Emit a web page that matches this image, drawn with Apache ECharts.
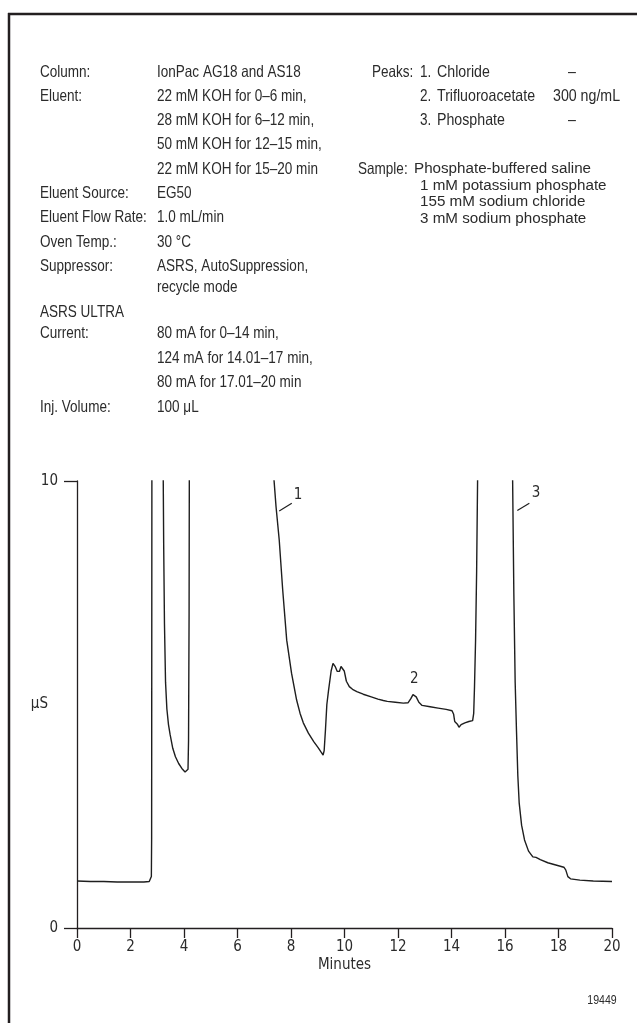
<!DOCTYPE html>
<html>
<head>
<meta charset="utf-8">
<script src="https://cdn.jsdelivr.net/npm/echarts@6/dist/echarts.min.js"></script>
<style>
html,body{margin:0;padding:0;background:#fff;}
#c{width:637px;height:1023px;}
</style>
</head>
<body>
<div id="c"></div>
<script>
// ---- data ----
const minutes = [0,0.5,1.0,1.5,2.0,2.5,2.70,2.75,2.78,2.79,2.80,2.95,3.10,3.22,3.24,3.27,3.31,3.36,3.42,3.48,3.58,3.68,3.80,3.92,4.04,4.11,4.15,4.17,4.19,4.20,4.5,7.0,7.33,7.44,7.56,7.69,7.84,8.02,8.21,8.34,8.46,8.65,8.85,9.02,9.12,9.20,9.24,9.29,9.34,9.40,9.50,9.57,9.61,9.66,9.73,9.81,9.87,9.93,9.99,10.07,10.18,10.30,10.46,10.70,11.0,11.25,11.45,11.6,11.9,12.2,12.38,12.48,12.56,12.61,12.68,12.78,12.90,13.2,13.5,13.8,14.02,14.08,14.12,14.18,14.22,14.28,14.36,14.50,14.65,14.79,14.83,14.86,14.90,14.94,14.98,15.2,16.0,16.28,16.33,16.38,16.43,16.48,16.53,16.62,16.73,16.88,17.04,17.10,17.16,17.22,17.32,17.6,17.9,18.2,18.27,18.35,18.45,18.8,19.3,20];
const microS = [1.05,1.04,1.04,1.03,1.03,1.03,1.04,1.06,1.15,2.0,10.5,30,30,10.4,8.6,6.8,5.5,4.9,4.55,4.33,4.02,3.83,3.68,3.57,3.49,3.45,3.55,4.2,7.0,10.5,30,30,10.3,9.43,8.68,7.56,6.44,5.70,5.10,4.80,4.59,4.36,4.17,4.03,3.94,3.87,3.97,4.45,5.0,5.30,5.75,5.92,5.96,5.84,5.74,5.74,5.85,5.88,5.75,5.52,5.40,5.34,5.29,5.23,5.17,5.12,5.09,5.07,5.05,5.03,5.04,5.13,5.22,5.24,5.17,5.05,4.98,4.95,4.92,4.89,4.86,4.78,4.62,4.58,4.56,4.49,4.55,4.59,4.62,4.64,4.80,5.40,6.44,8.0,10.3,30,30,10.3,7.5,5.5,4.4,3.4,2.8,2.3,1.97,1.72,1.59,1.63,1.58,1.62,1.53,1.46,1.41,1.36,1.30,1.15,1.10,1.07,1.05,1.04];
const xTicks = {min:0, max:20, step:2};
const yTicks = {min:0, max:10, step:10};
const peakNames = ['1','2','3'];
const peakLabelAt = [[8.26,9.69],[12.61,5.56],[17.16,9.73]];
const leaderLines = [[[7.56,9.33],[8.03,9.50]],[[16.46,9.34],[16.91,9.50]]];

const leftLabels = ['Column:','Eluent:','','','','Eluent Source:','Eluent Flow Rate:','Oven Temp.:','Suppressor:','','ASRS ULTRA','Current:','','','Inj. Volume:'];
const leftValues = ['IonPac AG18 and AS18','22 mM KOH for 0–6 min,','28 mM KOH for 6–12 min,','50 mM KOH for 12–15 min,','22 mM KOH for 15–20 min','EG50','1.0 mL/min','30 °C','ASRS, AutoSuppression,','recycle mode','','80 mA for 0–14 min,','124 mA for 14.01–17 min,','80 mA for 17.01–20 min','100 μL'];
const peakNums = ['1.','2.','3.'];
const peakList = ['Chloride','Trifluoroacetate','Phosphate'];
const peakConc = ['–','300 ng/mL','–'];
const sampleLines = ['Phosphate-buffered saline','1 mM potassium phosphate','155 mM sodium chloride','3 mM sodium phosphate'];
const figureId = '19449';

// ---- layout ----
const CFONT = "'DejaVu Sans Condensed','Liberation Sans Narrow',sans-serif";
const TFONT = "'Liberation Sans',Arial,sans-serif";
const TXT = '#2b2b2b';
const lineY = [72,96.3,120.6,144.9,169.2,193.5,217.8,242.1,266.4,287.9,312.4,333.9,358.2,382.5,407];
const g = [];
function txt(s, x, y, size, sx, align){
  if(!s) return;
  g.push({type:'text', silent:true, x:x, y:y, scaleX:sx||0.82,
    style:{text:s, x:0, y:0, font:(size||16.5)+'px '+TFONT, fill:TXT, textAlign:align||'left', textVerticalAlign:'middle'}});
}
leftLabels.forEach((s,i)=>txt(s,40,lineY[i]));
leftValues.forEach((s,i)=>txt(s,157,lineY[i]));
txt('Peaks:',372,lineY[0]);
peakNums.forEach((s,i)=>txt(s,420,lineY[i]));
peakList.forEach((s,i)=>txt(s,437,lineY[i],16.5,0.86));
peakConc.forEach((s,i)=>txt(s, s==='–'?568:553, lineY[i], 16.5, 0.86));
txt('Sample:',358,lineY[4]);
sampleLines.forEach((s,i)=>txt(s, i===0?414:420, lineY[4]+i*16.5, 15.2, 1));
txt(figureId,602,1001,12,0.88,'center');
// frame
g.push({type:'line', silent:true, shape:{x1:8,y1:14,x2:637,y2:14}, style:{stroke:'#231f20', lineWidth:2.5}});
g.push({type:'line', silent:true, shape:{x1:9,y1:13,x2:9,y2:1023}, style:{stroke:'#231f20', lineWidth:2.5}});

const chart = echarts.init(document.getElementById('c'), null, {renderer:'canvas'});
const axisLineStyle = {color:'#231f20', width:1.3};
chart.setOption({
  animation:false,
  backgroundColor:'#fff',
  grid:{left:77, right:25, top:481, bottom:95, containLabel:false},
  xAxis:{
    type:'value', min:xTicks.min, max:xTicks.max, interval:xTicks.step,
    name:'Minutes', nameLocation:'middle', nameGap:30, nameMoveOverlap:false,
    nameTextStyle:{color:TXT, fontFamily:CFONT, fontSize:15},
    axisLine:{show:true, lineStyle:axisLineStyle},
    axisTick:{show:true, length:10, lineStyle:axisLineStyle},
    axisLabel:{color:TXT, fontFamily:CFONT, fontSize:15, margin:12},
    splitLine:{show:false}
  },
  yAxis:{
    type:'value', min:yTicks.min, max:yTicks.max, interval:yTicks.step,
    name:'μS', nameLocation:'middle', nameRotate:0, nameGap:29, nameMoveOverlap:false,
    nameTextStyle:{color:TXT, fontFamily:CFONT, fontSize:15},
    axisLine:{show:true, lineStyle:axisLineStyle},
    axisTick:{show:true, length:13, lineStyle:axisLineStyle},
    axisLabel:{color:TXT, fontFamily:CFONT, fontSize:15, margin:19},
    splitLine:{show:false}
  },
  series:[{
    type:'line',
    data: minutes.map((t,i)=>[t, microS[i]]),
    showSymbol:false, symbol:'none', clip:true,
    lineStyle:{color:'#1e1e1e', width:1.4},
    markLine:{
      silent:true, symbol:['none','none'], label:{show:false},
      lineStyle:{color:'#1e1e1e', width:1.2, type:'solid'},
      data: leaderLines.map(l=>[{coord:l[0]},{coord:l[1]}])
    },
    markPoint:{
      silent:true, symbol:'circle', symbolSize:1, itemStyle:{color:'rgba(0,0,0,0)'},
      label:{show:true, position:'inside', color:TXT, fontFamily:CFONT, fontSize:15, formatter:p=>p.name},
      data: peakNames.map((n,i)=>({name:n, coord:peakLabelAt[i]}))
    }
  }],
  graphic: g
});
</script>
</body>
</html>
